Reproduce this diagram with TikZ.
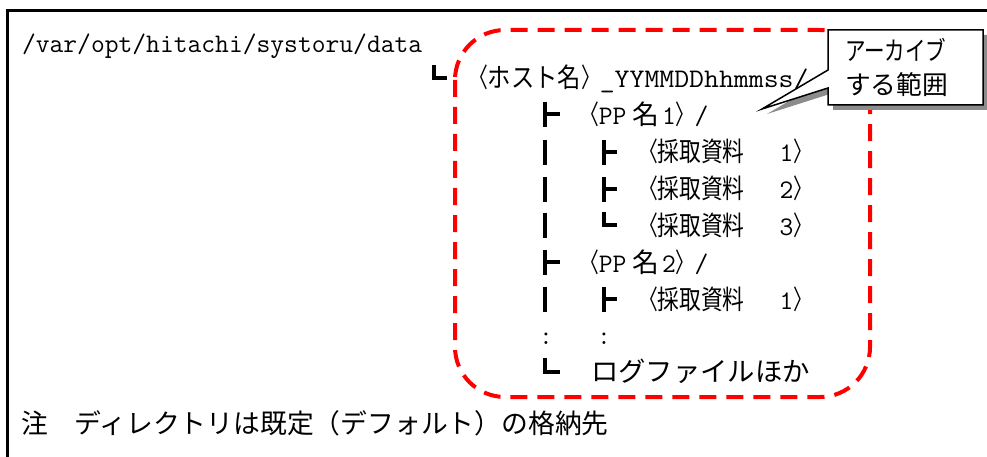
\documentclass[tikz,border=0pt]{standalone}
\usepackage{fontspec}
\usepackage{graphicx}
\newfontfamily\jpfont{Noto Sans CJK JP}
\newcommand\hs[2]{\scalebox{#1}[1]{#2}}
\newcommand\J[1]{{\jpfont #1}}
\newcommand\Jh[2]{\scalebox{#1}[1]{\jpfont #2}}
\begin{document}
\begin{tikzpicture}[x=1pt,y=-1pt,
  txt/.style={inner sep=0pt, outer sep=0pt, anchor=base west, font=\fontsize{26.8}{30}\selectfont\ttfamily},
  treeline/.style={line width=4pt, line cap=butt, line join=miter},
  framestyle/.style={line width=3pt, line join=miter},
  archive/.style={draw=red, line width=4pt, dash pattern=on 17pt off 10pt, rounded corners=50pt},
  callout/.style={fill=white, draw=black, line width=1.5pt, line join=miter},
  calloutshadow/.style={fill=black!45},
  calltext/.style={inner sep=0pt, outer sep=0pt, anchor=base west, font=\fontsize{26}{30}\selectfont\jpfont}]
\useasboundingbox (0,0) rectangle (987,457);
\fill[white] (0,0) rectangle (987,457);
% frame
\draw[framestyle] (7.5,460) -- (7.5,10.8) -- (990,10.8);
% archive range
\draw[archive] (455,30) rectangle (870,397);
% texts
\node[txt] (path) at (22,53) {/var/opt/hitachi/systoru/data};
\node[txt] (host) at (469,88) {\Jh{0.7}{〈}\Jh{0.87}{ホスト名}\Jh{0.7}{〉}\hs{1.08}{\_YYMMDDhhmmss/}};
\node[txt] (pp1) at (580,124.5) {\Jh{0.7}{〈}PP\hspace{6pt}\J{名}\hspace{3pt}1\Jh{0.7}{〉}/};
\node[txt] (s1) at (639,162) {\Jh{0.7}{〈}\Jh{0.81}{採取資料}\hspace{35pt}1\Jh{0.7}{〉}};
\node[txt] (s2) at (639,198.5) {\Jh{0.7}{〈}\Jh{0.81}{採取資料}\hspace{35pt}2\Jh{0.7}{〉}};
\node[txt] (s3) at (639,235) {\Jh{0.7}{〈}\Jh{0.81}{採取資料}\hspace{35pt}3\Jh{0.7}{〉}};
\node[txt] (pp2) at (580,272) {\Jh{0.7}{〈}PP\hspace{6pt}\J{名}\hspace{3pt}2\Jh{0.7}{〉}/};
\node[txt] (s4) at (639,309) {\Jh{0.7}{〈}\Jh{0.81}{採取資料}\hspace{35pt}1\Jh{0.7}{〉}};
\node[txt, anchor=base] (c1) at (546,344) {:};
\node[txt, anchor=base] (c2) at (604,344) {:};
\node[txt] (log) at (591,381) {\Jh{1.02}{ログファイルほか}};
\node[txt] (note) at (21,433) {\J{注　ディレクトリは既定（デフォルト）の格納先}};
% tree lines
\draw[treeline] (434,65) -- (434,78) -- (447,78);
\draw[treeline] (545,102) -- (545,127) (545,114.5) -- (560,114.5);
\draw[treeline] (545,140) -- (545,165);
\draw[treeline] (545,177) -- (545,202);
\draw[treeline] (545,212.5) -- (545,237.5);
\draw[treeline] (545,249.5) -- (545,274.5) (545,262) -- (560,262);
\draw[treeline] (545,286.5) -- (545,311.5);
\draw[treeline] (545,358) -- (545,371.5) -- (560,371.5);
\draw[treeline] (604,140) -- (604,165) (604,152.5) -- (617,152.5);
\draw[treeline] (604,177) -- (604,202) (604,189.5) -- (617,189.5);
\draw[treeline] (604,212) -- (604,225) -- (617,225);
\draw[treeline] (604,286.5) -- (604,311.5) (604,299) -- (617,299);
% callout
\begin{scope}[shift={(5,5)}]
\fill[calloutshadow] (828,30) -- (983,30) -- (983,105) -- (828,105) -- (828,88) -- (762,109) -- (828,70) -- cycle;
\end{scope}
\draw[callout] (828,30) -- (983,30) -- (983,105) -- (828,105) -- (828,88) -- (762,109) -- (828,70) -- cycle;
\node[calltext] (ct1) at (845,61) {\hs{0.79}{アーカイブ}};
\node[calltext] (ct2) at (845,95) {\hs{0.99}{する範囲}};
\end{tikzpicture}
\end{document}
